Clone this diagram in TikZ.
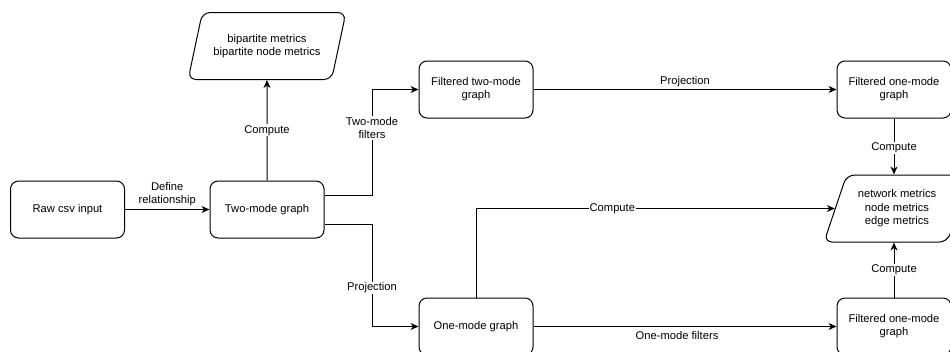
\documentclass[tikz,border=0pt]{standalone}
\usepackage{fontspec}
\setmainfont{Liberation Sans}
\usetikzlibrary{shapes.geometric,arrows.meta,calc}
\tikzset{
  x=1pt, y=-1pt,
  every node/.style={font=\fontsize{11.2}{13}\selectfont},
  box/.style={draw, line width=1pt, rounded corners=8pt, minimum width=114pt, minimum height=57pt, align=center, inner sep=2pt},
  para/.style={draw, line width=1pt, rounded corners=8pt, trapezium, trapezium left angle=66, trapezium right angle=114, trapezium stretches=true, minimum height=67pt, align=center, inner sep=2pt},
  conn/.style={line width=1pt, -{Stealth[length=8pt,width=7pt,inset=2.5pt]}},
  lbl/.style={fill=white, inner sep=1pt, align=center},
}
\begin{document}
\begin{tikzpicture}
\useasboundingbox (0,0) rectangle (950,351);
\node[box] (raw) at (67.5,209.5) {Raw csv input};
\node[box] (two) at (267,209.5) {Two-mode graph};
\node[para, minimum width=158pt] (bip) at (267,46) {bipartite metrics\\bipartite node metrics};
\node[box] (f1t) at (894,89.5) {Filtered one-mode\\graph};
\node[box] (f2) at (476,89.5) {Filtered two-mode\\graph};
\node[para, minimum width=146pt, font=\fontsize{11.2}{13.5}\selectfont] (net) at (897,208.5) {network metrics\\node metrics\\edge metrics};
\node[box] (one) at (476,326.5) {One-mode graph};
\node[box] (f1b) at (894,326.5) {Filtered one-mode\\graph};

\coordinate (tup) at ($(two.east)+(0,-14.5)$);
\coordinate (tdn) at ($(two.east)+(0,14.5)$);
\coordinate (bx) at (372,0);

\draw[conn] (raw) -- node[above, align=center, font=\fontsize{11.2}{12.5}\selectfont] {Define\\relationship} (two);
\draw[conn] (two) -- node[lbl] {Compute} (bip);
\draw[conn] (tup) -- (tup -| bx) |- (f2.west);
\node[lbl, font=\fontsize{11.2}{13.5}\selectfont] (l2) at (372,128) {Two-mode\\filters};
\draw[conn] (tdn) -- (tdn -| bx) |- (one.west);
\node[lbl] (l3) at (372,288) {Projection};
\draw[conn] (f2) -- node[above, inner sep=2pt] {Projection} (f1t);
\draw[conn] (f1t.south) -- node[lbl, pos=0.52] {Compute} (f1t.south |- net.north);
\draw[conn] (one.north) |- node[lbl, pos=0.69] {Compute} (net.west);
\draw[conn] (one) -- node[below, inner sep=4pt, xshift=-8pt] {One-mode filters} (f1b);
\draw[conn] (f1b.north) -- node[lbl] {Compute} (f1b.north |- net.south);
\end{tikzpicture}
\end{document}
